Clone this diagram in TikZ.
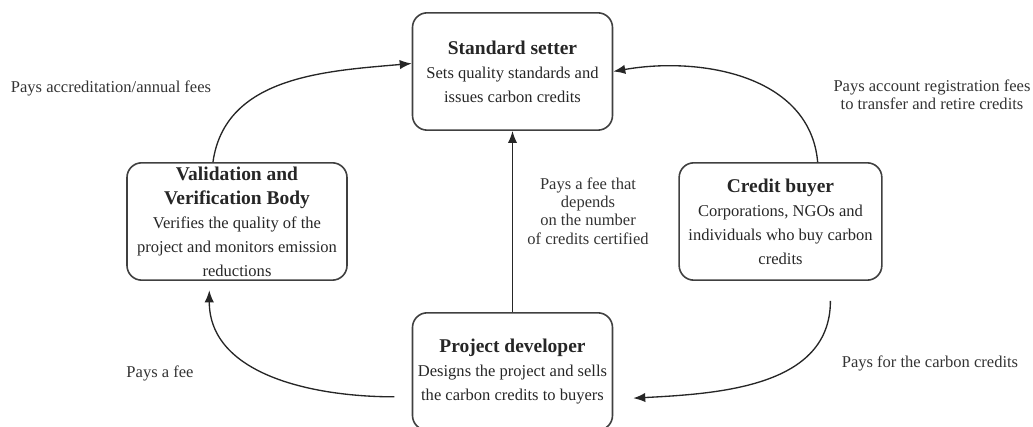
\documentclass[tikz,border=0pt]{standalone}
\usepackage{fontspec}
\setmainfont{Liberation Serif}
\usetikzlibrary{positioning,arrows.meta}

\newcommand{\boxtitle}[1]{{\fontsize{14.6}{18}\selectfont\bfseries #1}}

\begin{document}
\begin{tikzpicture}[
    x=0.75pt, y=0.75pt,
    actor/.style={draw=black!75, line width=1.2pt, rounded corners=11pt, minimum height=88pt, inner sep=1pt, align=center, text=black!85, font=\fontsize{12.4}{18}\selectfont},
    lbl/.style={align=center, text=black!80, font=\fontsize{12.4}{13.8}\selectfont},
    arr/.style={-{Latex[length=9pt, width=7pt]}, line width=1pt, black!85}
]
\useasboundingbox (0,0) rectangle (1033,427);

% actors
\node[actor, minimum width=150pt] (setter) at (512.5,355.5) {\boxtitle{Standard setter}\\Sets quality standards and\\issues carbon credits};
\node[actor, minimum width=165pt] (vvb) at (237,205.5) {\boxtitle{Validation and}\\\boxtitle{Verification Body}\\Verifies the quality of the\\project and monitors emission\\reductions};
\node[actor, minimum width=152pt] (buyer) at (780.5,205.5) {\boxtitle{Credit buyer}\\Corporations, NGOs and\\individuals who buy carbon\\credits};
\node[actor, minimum width=150pt] (dev) at (512.5,55.5) {\boxtitle{Project developer}\\Designs the project and sells\\the carbon credits to buyers};

% payment flows
\draw[arr] (dev.north) -- (setter.south);
\draw[arr] (vvb.112) to[out=82, in=185] ([yshift=6pt]setter.west);
\draw[arr] (buyer.58) to[out=95, in=10] (setter.east);
\draw[arr] ([yshift=-15pt]buyer.-50) to[out=-90, in=3] ([xshift=15pt, yshift=-20pt]dev.east);
\draw[arr] ([xshift=-13pt, yshift=-19pt]dev.west) to[out=180, in=-90] ([yshift=-7pt]vvb.-115);

% labels
\node[lbl] (feeAccred) at (111,339) {Pays accreditation/annual fees};
\node[lbl] (feeAccount) at (932,332) {Pays account registration fees\\to transfer and retire credits};
\node[lbl] (feeCert) at (588,216) {Pays a fee that\\depends\\on the number\\of credits certified};
\node[lbl] (feeVvb) at (160,54) {Pays a fee};
\node[lbl] (feeCredits) at (930,64) {Pays for the carbon credits};
\end{tikzpicture}
\end{document}
